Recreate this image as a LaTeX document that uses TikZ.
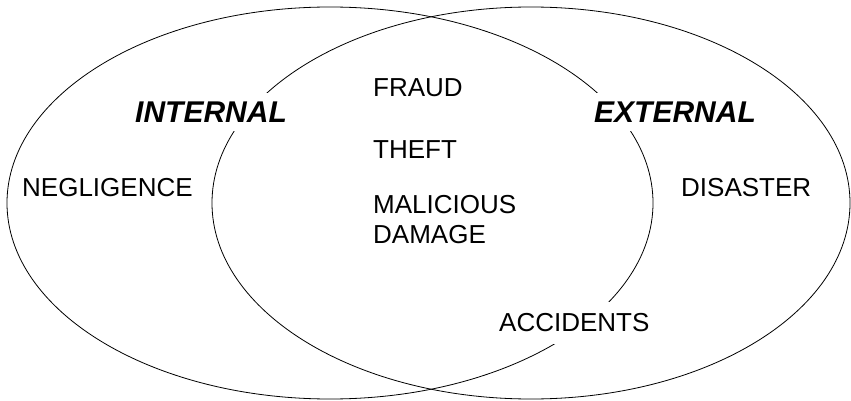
\documentclass[tikz,border=0pt]{standalone}
\usepackage{fontspec}
\setmainfont{Liberation Sans}
\begin{document}
\begin{tikzpicture}[x=1pt,y=-1pt,
  set/.style={draw=black,line width=0.8pt},
  lbl/.style={font=\fontsize{26}{30}\selectfont,inner sep=0pt,anchor=west},
  head/.style={font=\fontsize{30}{32}\selectfont\bfseries\itshape,fill=white,inner xsep=3pt,inner ysep=9pt,anchor=west},
  cover/.style={lbl,fill=white,inner xsep=4pt,inner ysep=12pt}]
\useasboundingbox (0,0) rectangle (851,401);
% the two overlapping sets
\draw[set] (330,203) ellipse [x radius=323,y radius=196];
\draw[set] (531,203) ellipse [x radius=319,y radius=196];
% set headings (white boxes break the other outline)
\node[head] (internal) at (132,112) {INTERNAL};
\node[head] (external) at (591,112) {EXTERNAL};
% members
\node[lbl] (negligence) at (22,188) {NEGLIGENCE};
\node[lbl] (disaster) at (681,188) {DISASTER};
\node[lbl] (fraud) at (373,88) {FRAUD};
\node[lbl] (theft) at (373,150) {THEFT};
\node[lbl,align=left] (malicious) at (373,220) {MALICIOUS\\DAMAGE};
\node[cover] (accidents) at (495,323) {ACCIDENTS};
\end{tikzpicture}
\end{document}
